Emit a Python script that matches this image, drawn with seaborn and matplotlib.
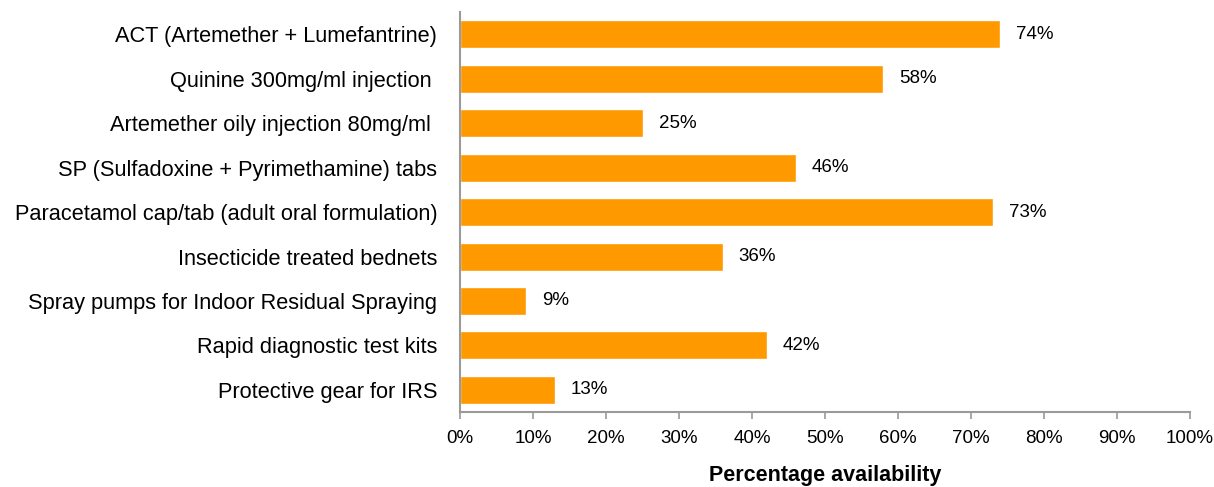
import numpy as np
import pandas as pd
import matplotlib
matplotlib.use("Agg")
import matplotlib.pyplot as plt
import seaborn as sns

# Dữ liệu
items = [
    "ACT (Artemether + Lumefantrine)",
    "Quinine 300mg/ml injection ",
    "Artemether oily injection 80mg/ml ",
    "SP (Sulfadoxine + Pyrimethamine) tabs",
    "Paracetamol cap/tab (adult oral formulation)",
    "Insecticide treated bednets",
    "Spray pumps for Indoor Residual Spraying",
    "Rapid diagnostic test kits",
    "Protective gear for IRS",
]
availability = [74, 58, 25, 46, 73, 36, 9, 42, 13]
x_ticks = list(range(0, 101, 10))
x_tick_labels = [f"{t}%" for t in x_ticks]

sns.set_theme(style="white")
plt.rcParams["font.family"] = ["Liberation Sans", "DejaVu Sans"]
plt.rcParams["text.color"] = "black"
plt.rcParams["xtick.color"] = "black"
plt.rcParams["ytick.color"] = "black"

df = pd.DataFrame({"item": items, "value": availability})

fig = plt.figure(figsize=(12.14, 4.87), dpi=100)
ax = fig.add_axes([0.379, 0.154, 0.601, 0.821])

sns.barplot(data=df, y="item", x="value", orient="h", color="#FF9900",
            saturation=1, width=0.63, ax=ax)

for i, v in enumerate(availability):
    ax.text(v + 2.2, i, f"{v}%", va="center", ha="left", fontsize=13.5, color="black")

ax.set_xlim(0, 100)
ax.set_xticks(x_ticks)
ax.set_xticklabels(x_tick_labels, fontsize=13.5)
ax.tick_params(axis="y", labelsize=15.7, length=0, pad=16.5)
ax.tick_params(axis="x", length=5, width=1.2, color="#9a9a9a", direction="out",
               bottom=True, pad=8, labelcolor="black")
ax.set_ylabel("")
ax.set_xlabel("Percentage availability", fontsize=15.5, fontweight="bold",
              labelpad=13, color="black")

for side in ["top", "right"]:
    ax.spines[side].set_visible(False)
for side in ["left", "bottom"]:
    ax.spines[side].set_color("#9a9a9a")
    ax.spines[side].set_linewidth(1.5)

fig.savefig("out.png", dpi=100)
